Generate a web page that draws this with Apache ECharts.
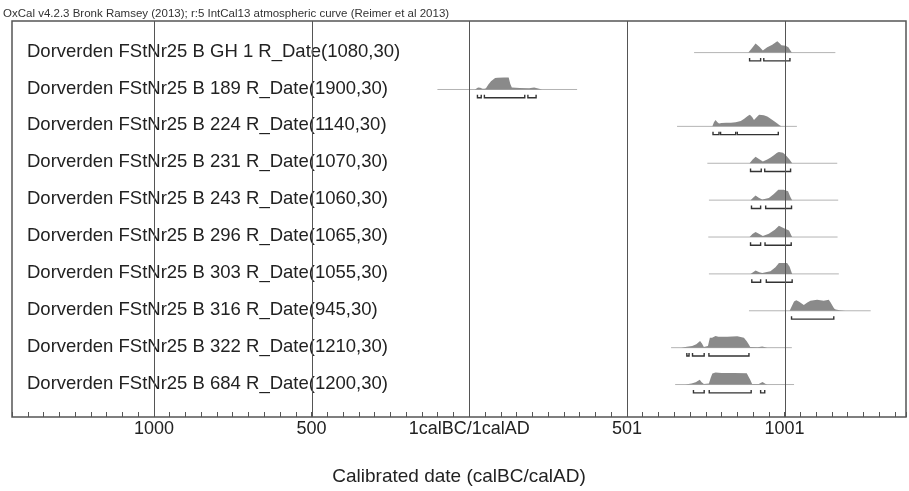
<!DOCTYPE html>
<html><head><meta charset="utf-8">
<script src="https://cdn.jsdelivr.net/npm/echarts@6/dist/echarts.min.js"></script>
<style>html,body{margin:0;padding:0;background:#fff}#c{width:909px;height:491px}</style>
</head><body><div id="c"></div>
<script>
const titleText = 'OxCal v4.2.3 Bronk Ramsey (2013); r:5 IntCal13 atmospheric curve (Reimer et al 2013)';
const axisTitle = 'Calibrated date (calBC/calAD)';
const sampleLabels = [
  'Dorverden FStNr25 B GH 1 R_Date(1080,30)',
  'Dorverden FStNr25 B 189 R_Date(1900,30)',
  'Dorverden FStNr25 B 224 R_Date(1140,30)',
  'Dorverden FStNr25 B 231 R_Date(1070,30)',
  'Dorverden FStNr25 B 243 R_Date(1060,30)',
  'Dorverden FStNr25 B 296 R_Date(1065,30)',
  'Dorverden FStNr25 B 303 R_Date(1055,30)',
  'Dorverden FStNr25 B 316 R_Date(945,30)',
  'Dorverden FStNr25 B 322 R_Date(1210,30)',
  'Dorverden FStNr25 B 684 R_Date(1200,30)'
];
// axis: negative = calBC, positive = calAD
const xMin = -1450, xMax = 1385, xStep = 50;
const majorTickValues = [-1000, -500, 0, 500, 1000];
const majorTickLabels = ['1000', '500', '1calBC/1calAD', '501', '1001'];

// extent of the thin base line for each date
const lineRanges = [[713,1161],[-101,342],[659,1039],[755,1167],[760,1170],[758,1168],[760,1172],[887,1273],[640,1023],[653,1030]];

// probability distributions [year, relative probability]
const dist1 = [[885,0],[895,0.33],[908,0.77],[920,0.5],[931,0.19],[945,0.46],[961,0.67],[972,0.88],[977,0.96],[984,0.79],[990,0.63],[1003,0.58],[1012,0.45],[1018,0.2],[1023,0]];
const dist2 = [[18,0],[28,0.18],[35,0.15],[42,0.06],[48,0.06],[53,0.1],[60,0.4],[69,0.7],[82,0.97],[90,1.0],[110,1.02],[125,1.02],[130,0.5],[135,0.18],[160,0.12],[190,0.1],[200,0.14],[206,0.17],[215,0.1],[231,0]];
const dist3 = [[771,0],[776,0.35],[781,0.55],[787,0.35],[792,0.25],[800,0.28],[815,0.3],[830,0.3],[845,0.35],[861,0.45],[872,0.65],[884,0.9],[890,1.0],[897,0.8],[903,0.55],[912,0.8],[919,1.0],[934,0.95],[945,0.85],[950,0.75],[966,0.45],[977,0.25],[984,0.1],[990,0]];
const dist4 = [[889,0],[898,0.3],[908,0.56],[920,0.35],[931,0.14],[945,0.33],[956,0.5],[966,0.69],[976,0.9],[982,0.97],[995,0.89],[1003,0.7],[1008,0.56],[1015,0.35],[1019,0.2],[1024,0]];
const dist5 = [[892,0],[900,0.2],[908,0.39],[918,0.2],[929,0.06],[940,0.12],[950,0.19],[966,0.52],[980,0.89],[997,0.89],[1011,0.75],[1017,0.35],[1020,0.19],[1024,0]];
const dist6 = [[889,0],[898,0.25],[908,0.42],[920,0.25],[931,0.08],[950,0.28],[969,0.61],[982,0.97],[998,0.75],[1014,0.56],[1021,0.14],[1024,0]];
const dist7 = [[892,0],[900,0.15],[908,0.28],[920,0.15],[929,0.08],[955,0.22],[971,0.56],[982,0.92],[1008,0.92],[1016,0.6],[1020,0.3],[1024,0]];
const dist8 = [[1016,0],[1022,0.35],[1030,0.8],[1037,0.9],[1045,0.8],[1061,0.5],[1072,0.7],[1082,0.85],[1103,0.94],[1124,0.85],[1140,0.94],[1146,0.7],[1151,0.48],[1157,0.2],[1162,0.1],[1175,0.04],[1193,0]];
const dist9 = [[672,0],[690,0.08],[707,0.15],[720,0.3],[732,0.56],[738,0.35],[744,0.06],[757,0.15],[763,0.85],[770,0.85],[781,1.0],[790,0.92],[818,0.92],[850,0.97],[871,0.85],[880,0.55],[886,0.3],[891,0.06],[915,0.04],[929,0.09],[945,0]];
const dist10 = [[685,0],[705,0.08],[718,0.2],[731,0.4],[737,0.2],[744,0.04],[760,0.08],[766,0.6],[771,0.95],[781,1.02],[800,0.98],[840,0.98],[880,0.97],[885,0.7],[891,0.4],[897,0.04],[918,0.05],[930,0.22],[940,0.05],[945,0]];

// 95.4% ranges
const ranges1 = [[889,924],[934,1017]];
const ranges2 = [[26,38],[48,176],[186,212]];
const ranges3 = [[773,792],[797,845],[850,980]];
const ranges4 = [[892,926],[937,1019]];
const ranges5 = [[895,924],[940,1022]];
const ranges6 = [[892,924],[938,1021]];
const ranges7 = [[896,924],[942,1024]];
const ranges8 = [[1022,1156]];
const ranges9 = [[690,697],[708,745],[760,887]];
const ranges10 = [[711,745],[761,894],[924,937]];

const dists = [dist1,dist2,dist3,dist4,dist5,dist6,dist7,dist8,dist9,dist10];
const ranges = [ranges1,ranges2,ranges3,ranges4,ranges5,ranges6,ranges7,ranges8,ranges9,ranges10];
const rowIdx = sampleLabels.map((_, i) => i);

const yMin = -0.857, yMax = 9.88;
const PROB_SCALE = 0.318;
const BR_OFF = 0.225, BR_HOOK = 0.08;
const FONT = '"Liberation Sans", Arial, sans-serif';

const chart = echarts.init(document.getElementById('c'), null, {renderer: 'canvas'});

function renderRow(params, api) {
  const i = api.value(0);
  const d = dists[i];
  const pts = d.map(p => api.coord([p[0], i - p[1] * PROB_SCALE]));
  const b0 = api.coord([lineRanges[i][0], i]);
  const b1 = api.coord([lineRanges[i][1], i]);
  const left = api.coord([xMin, i]);
  const children = [];
  children.push({type: 'text', style: {text: sampleLabels[i], x: left[0] + 15, y: left[1] - 1, verticalAlign: 'middle', align: 'left', font: '18.5px ' + FONT, fill: '#222'}});
  children.push({type: 'line', shape: {x1: b0[0], y1: b0[1], x2: b1[0], y2: b1[1]}, style: {stroke: '#b4b4b4', lineWidth: 1}});
  children.push({type: 'polygon', shape: {points: pts}, style: {fill: '#8a8a8a', stroke: null}});
  ranges[i].forEach(r => {
    const a = api.coord([r[0], i + BR_OFF]), b = api.coord([r[1], i + BR_OFF]);
    const ah = api.coord([r[0], i + BR_OFF - BR_HOOK]), bh = api.coord([r[1], i + BR_OFF - BR_HOOK]);
    children.push({type: 'polyline', shape: {points: [ah, a, b, bh]}, style: {stroke: '#333', lineWidth: 1.4, fill: null}});
  });
  return {type: 'group', children};
}

function renderGridLine(params, api) {
  const v = api.value(0);
  const a = api.coord([v, yMin]), b = api.coord([v, yMax]);
  return {type: 'line', shape: {x1: Math.round(a[0]) + 0.5, y1: a[1], x2: Math.round(b[0]) + 0.5, y2: b[1]}, style: {stroke: '#555', lineWidth: 1}};
}

chart.setOption({
  animation: false,
  title: {text: titleText, left: 3, top: 8, padding: 0, textStyle: {fontFamily: FONT, fontSize: 11.5, fontWeight: 'normal', color: '#333'}},
  grid: {left: 12, right: 2, top: 21, bottom: 65, show: true, borderColor: '#555', borderWidth: 1.5, backgroundColor: 'transparent'},
  xAxis: {
    type: 'value', min: xMin, max: xMax, interval: xStep, position: 'bottom',
    axisLine: {show: false, onZero: false},
    axisTick: {show: true, inside: true, length: 5, lineStyle: {color: '#555', width: 1}},
    splitLine: {show: false},
    axisLabel: {
      interval: 0, showMinLabel: true, showMaxLabel: true, margin: 3,
      fontFamily: FONT, fontSize: 18, color: '#222',
      formatter: v => { const k = majorTickValues.indexOf(Math.round(v)); return k >= 0 ? majorTickLabels[k] : ''; }
    },
    name: axisTitle, nameLocation: 'middle', nameGap: 50,
    nameTextStyle: {fontFamily: FONT, fontSize: 19, color: '#222'}
  },
  yAxis: {type: 'value', min: yMin, max: yMax, inverse: true, show: false},
  series: [
    {type: 'custom', renderItem: renderRow, data: rowIdx.map(i => [i]), encode: {x: -1, y: 0}, z: 2, clip: false, silent: true},
    {type: 'custom', renderItem: renderGridLine, data: majorTickValues.map(v => [v]), encode: {x: 0, y: -1}, z: 3, silent: true}
  ]
});
</script></body></html>
